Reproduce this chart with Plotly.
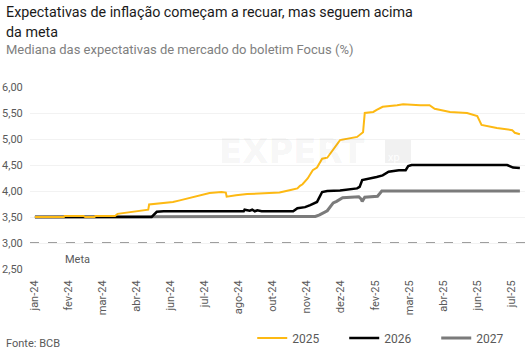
import plotly.graph_objects as go
import pandas as pd

# ---------------- data ----------------
dates_2025 = ["2024-01-02","2024-02-05","2024-02-06","2024-02-28","2024-03-01","2024-03-12","2024-03-13",
              "2024-04-05","2024-04-08","2024-04-20","2024-05-01","2024-05-14","2024-05-15","2024-05-30",
              "2024-06-12","2024-06-20","2024-07-02","2024-07-12","2024-07-25","2024-08-08","2024-08-13",
              "2024-08-14","2024-08-25","2024-09-07","2024-09-25","2024-10-15","2024-10-28","2024-11-05",
              "2024-11-08","2024-11-11","2024-11-17","2024-11-23","2024-11-28","2024-12-04","2024-12-10",
              "2024-12-17","2024-12-25","2025-01-14","2025-01-21","2025-01-23","2025-02-02","2025-02-06",
              "2025-02-13","2025-03-02","2025-03-09","2025-03-29","2025-04-09","2025-04-15","2025-05-03",
              "2025-05-23","2025-06-04","2025-06-09","2025-06-27","2025-07-15","2025-07-18","2025-07-24"]
ipca_2025 = [3.50,3.50,3.52,3.52,3.50,3.50,3.52,
             3.52,3.56,3.59,3.61,3.64,3.74,3.76,
             3.79,3.82,3.87,3.90,3.96,3.98,3.97,
             3.89,3.92,3.94,3.95,3.97,4.02,4.05,
             4.10,4.13,4.24,4.40,4.45,4.62,4.64,
             4.79,4.98,5.04,5.13,5.50,5.52,5.56,
             5.62,5.65,5.67,5.65,5.65,5.58,5.52,
             5.50,5.44,5.27,5.21,5.17,5.12,5.09]

dates_2026 = ["2024-01-02","2024-05-18","2024-05-24","2024-06-01","2024-09-03","2024-09-04","2024-09-10",
              "2024-09-13","2024-09-16","2024-09-19","2024-09-24","2024-10-31","2024-11-05","2024-11-14",
              "2024-11-20","2024-11-28","2024-12-04","2024-12-10","2024-12-25","2025-01-06","2025-01-14",
              "2025-01-17","2025-01-20","2025-02-06","2025-02-13","2025-02-20","2025-03-04","2025-03-12",
              "2025-03-15","2025-03-19","2025-04-20","2025-04-22","2025-04-25","2025-07-09","2025-07-12",
              "2025-07-16","2025-07-24"]
ipca_2026 = [3.50,3.50,3.60,3.61,3.61,3.64,3.62,
             3.64,3.61,3.63,3.61,3.61,3.67,3.69,
             3.73,3.79,3.98,4.00,4.01,4.03,4.05,
             4.08,4.21,4.27,4.30,4.37,4.40,4.40,
             4.48,4.50,4.50,4.51,4.50,4.50,4.48,
             4.45,4.44]

dates_2027 = ["2024-01-02","2024-11-20","2024-11-26","2024-12-01","2024-12-10","2024-12-17","2024-12-21",
              "2024-12-28","2025-01-16","2025-01-19","2025-01-20","2025-01-23","2025-02-07","2025-02-12",
              "2025-07-24"]
ipca_2027 = [3.50,3.50,3.51,3.54,3.62,3.77,3.80,
             3.87,3.89,3.84,3.80,3.88,3.90,4.00,
             4.00]

meta = 3.00
tick_labels = ["jan-24","fev-24","mar-24","abr-24","jun-24","jul-24","ago-24","out-24",
               "nov-24","dez-24","fev-25","mar-25","abr-25","jun-25","jul-25"]
y_ticks = [2.5, 3.0, 3.5, 4.0, 4.5, 5.0, 5.5, 6.0]

tick_vals = list(pd.date_range("2024-01-01", periods=len(tick_labels), freq="40D"))

# ---------------- figure ----------------
FONT = "Roboto"
L, R, T, B = 30, 6, 87, 85
PW, PH = 531 - L - R, 354 - T - B


def px(xp):
    return (xp - L) / PW


def py(yp):
    return (354 - B - yp) / PH


fig = go.Figure()
fig.add_trace(go.Scatter(x=dates_2027, y=ipca_2027, name="2027", mode="lines",
                         line=dict(color="#7b7b7b", width=3)))
fig.add_trace(go.Scatter(x=dates_2026, y=ipca_2026, name="2026", mode="lines",
                         line=dict(color="#000000", width=2.5)))
fig.add_trace(go.Scatter(x=dates_2025, y=ipca_2025, name="2025", mode="lines",
                         line=dict(color="#FDB913", width=2)))

fig.add_shape(type="line", xref="paper", x0=0, x1=1, yref="y", y0=meta, y1=meta,
              line=dict(color="#7f7f7f", width=1.5, dash="dash"), layer="below")

# watermark
fig.add_annotation(xref="paper", yref="paper", x=px(291.5), y=py(151), text="<b>EXPERT</b>",
                   showarrow=False, font=dict(family="DejaVu Sans", size=34, color="rgba(0,0,0,0.055)"))
fig.add_shape(type="rect", xref="paper", yref="paper", x0=px(385), x1=px(411), y0=py(163), y1=py(140),
              fillcolor="rgba(0,0,0,0.055)", line=dict(width=0), layer="below")
fig.add_annotation(xref="paper", yref="paper", x=px(402), y=py(157), text="xp", showarrow=False,
                   font=dict(family=FONT, size=11, color="rgba(255,255,255,0.95)"))

fig.add_annotation(xref="paper", yref="paper", x=px(63), y=py(251), yanchor="top", text="Meta",
                   showarrow=False, font=dict(family=FONT, size=11, color="#595959"))

fig.update_layout(
    width=531, height=354,
    margin=dict(l=L, r=R, t=T, b=B),
    paper_bgcolor="white", plot_bgcolor="white",
    separators=",.",
    font=dict(family=FONT, color="#595959"),
    showlegend=True,
    legend=dict(orientation="h", xref="container", yref="container", x=0.475, y=0.045,
                xanchor="left", yanchor="middle", traceorder="reversed",
                entrywidth=47, entrywidthmode="pixels", itemwidth=30,
                font=dict(family=FONT, size=12, color="#595959"), bgcolor="rgba(0,0,0,0)"),
    xaxis=dict(type="date", range=["2023-12-27 06:00", "2025-07-30"],
               tickvals=tick_vals, ticktext=tick_labels, tickangle=-90,
               showgrid=False, zeroline=False, showline=False, automargin=False,
               ticks="outside", ticklen=6, tickcolor="rgba(0,0,0,0)",
               tickfont=dict(family=FONT, size=11, color="#595959")),
    yaxis=dict(range=[2.5, 6.0], tickvals=y_ticks, tickformat=".2f",
               showgrid=True, gridcolor="#f2f2f2", gridwidth=1, zeroline=False, showline=False,
               automargin=False,
               ticks="outside", ticklen=4, tickcolor="rgba(0,0,0,0)",
               tickfont=dict(family=FONT, size=11, color="#595959")),
)

fig.add_annotation(xref="paper", yref="paper", x=px(4), y=py(2), xanchor="left", yanchor="top",
                   text="Expectativas de inflação começam a recuar, mas seguem acima", showarrow=False,
                   font=dict(family=FONT, size=14.3, color="#1a1a1a"))
fig.add_annotation(xref="paper", yref="paper", x=px(4), y=py(22), xanchor="left", yanchor="top",
                   text="da meta", showarrow=False,
                   font=dict(family=FONT, size=14.3, color="#1a1a1a"))
fig.add_annotation(xref="paper", yref="paper", x=px(4), y=py(40), xanchor="left", yanchor="top",
                   text="Mediana das expectativas de mercado do boletim Focus (%)", showarrow=False,
                   font=dict(family=FONT, size=13, color="#808080"))
fig.add_annotation(xref="paper", yref="paper", x=px(4), y=py(343), xanchor="left", yanchor="middle",
                   text="Fonte: BCB", showarrow=False,
                   font=dict(family=FONT, size=11, color="#595959"))

fig.write_html("out.html")
